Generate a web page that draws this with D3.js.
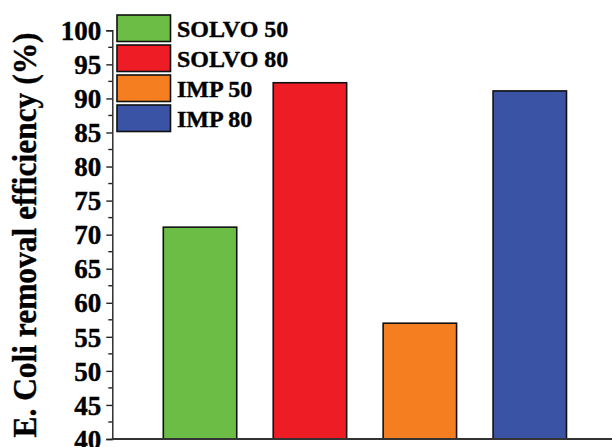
<!DOCTYPE html>
<html>
<head>
<meta charset="utf-8">
<script src="https://cdn.jsdelivr.net/npm/d3@7"></script>
<style>
  html, body { margin: 0; padding: 0; background: #fff; }
  svg { display: block; }
  text { font-family: "Times New Roman", "Liberation Serif", Times, serif; font-weight: bold; fill: #000; stroke: #000; stroke-width: 0.4px; }
</style>
</head>
<body>
<div id="chart"></div>
<script>
const categories = ["SOLVO 50", "SOLVO 80", "IMP 50", "IMP 80"];
const values = [71.1, 92.3, 57.0, 91.1];
const colors = ["#6cbd45", "#ee1c25", "#f57f20", "#3a53a4"];
const yTicks = [40, 45, 50, 55, 60, 65, 70, 75, 80, 85, 90, 95, 100];
const yLabel = "E. Coli removal efficiency (%)";

const W = 612, H = 447;
const svg = d3.select("#chart").append("svg").attr("width", W).attr("height", H);

const x0 = 112.3, yBottom = 439, yTop = 30.3;
const x = d3.scaleBand().domain(categories).range([x0, 617.5]).paddingInner(0.332).paddingOuter(0.464);
const y = d3.scaleLinear().domain([40, 100]).range([yBottom, yTop]);

// bars
svg.append("g").selectAll("rect").data(categories).join("rect")
  .attr("x", d => x(d))
  .attr("y", (d, i) => y(values[i]))
  .attr("width", x.bandwidth())
  .attr("height", (d, i) => y(40) - y(values[i]))
  .attr("fill", (d, i) => colors[i])
  .attr("stroke", "#111")
  .attr("stroke-width", 1.6);

// y axis
const yAxis = d3.axisLeft(y).tickValues(yTicks).tickSize(6).tickPadding(5).tickFormat(d3.format("d"));
const gy = svg.append("g").attr("transform", `translate(${x0},0)`).call(yAxis);
gy.attr("font-family", null).attr("font-size", null);
gy.select(".domain").attr("stroke", "#222").attr("stroke-width", 1.4);
gy.selectAll(".tick line").attr("stroke", "#222").attr("stroke-width", 1.4);
gy.selectAll(".tick text").style("font-size", "27px").attr("dy", "0.34em");

// minor ticks
const minor = d3.range(42.5, 100, 5);
svg.append("g").selectAll("line").data(minor).join("line")
  .attr("x1", x0 - 4).attr("x2", x0)
  .attr("y1", d => y(d)).attr("y2", d => y(d))
  .attr("stroke", "#222").attr("stroke-width", 1.4);

// x axis line
svg.append("line").attr("x1", x0 - 0.7).attr("x2", W).attr("y1", yBottom).attr("y2", yBottom)
  .attr("stroke", "#333").attr("stroke-width", 2);

// y label
svg.append("text")
  .attr("transform", `translate(36,235) rotate(-90)`)
  .attr("text-anchor", "middle")
  .style("font-size", "34px")
  .attr("textLength", 405)
  .attr("lengthAdjust", "spacingAndGlyphs")
  .text(yLabel);

// legend
const leg = svg.append("g");
const lg = leg.selectAll("g").data(categories).join("g")
  .attr("transform", (d, i) => `translate(117,${15 + i * 30})`);
lg.append("rect").attr("width", 53.5).attr("height", 26.5)
  .attr("fill", (d, i) => colors[i]).attr("stroke", "#111").attr("stroke-width", 1.6);
lg.append("text").attr("x", 60).attr("y", 21.5).style("font-size", "24px").text(d => d);
</script>
</body>
</html>
